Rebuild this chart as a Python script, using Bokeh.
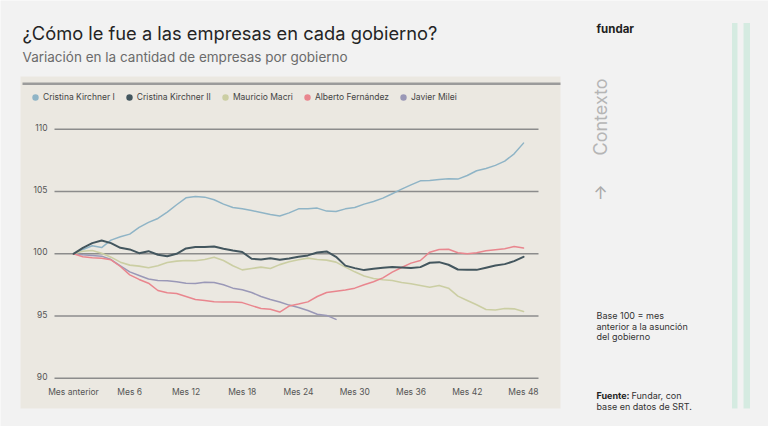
import math

from bokeh.plotting import figure
from bokeh.models import Range1d, Legend, LegendItem, Label, BoxAnnotation
from bokeh.core.properties import value
from bokeh.embed import file_html
from bokeh.resources import INLINE

# ---- data: company count index (base 100 = month before each government took office)
months = list(range(49))

cristina_1 = [100.0, 100.35, 100.65, 100.5, 101.1, 101.37, 101.58, 102.12, 102.52, 102.84,
              103.35, 103.94, 104.5, 104.6, 104.55, 104.34, 103.99, 103.72, 103.61, 103.48,
              103.32, 103.16, 103.03, 103.29, 103.61, 103.61, 103.67, 103.43, 103.4, 103.61,
              103.72, 103.99, 104.2, 104.47, 104.82, 105.19, 105.54, 105.86, 105.89, 105.97,
              106.02, 106.0, 106.29, 106.67, 106.85, 107.1, 107.44, 108.03, 108.89]

cristina_2 = [100.0, 100.48, 100.86, 101.07, 100.86, 100.48, 100.35, 100.05, 100.21, 99.92,
              99.81, 100.0, 100.43, 100.54, 100.54, 100.59, 100.4, 100.26, 100.14, 99.6,
              99.55, 99.65, 99.52, 99.63, 99.76, 99.87, 100.11, 100.19, 99.76, 99.05,
              98.85, 98.69, 98.8, 98.88, 98.93, 98.9, 98.85, 98.93, 99.28, 99.33,
              99.12, 98.74, 98.71, 98.71, 98.88, 99.06, 99.17, 99.41, 99.76]

macri = [100.0, 100.21, 100.27, 100.05, 99.73, 99.33, 99.09, 99.01, 98.88, 99.04,
         99.3, 99.41, 99.46, 99.44, 99.54, 99.73, 99.46, 99.04, 98.71, 98.82,
         98.93, 98.82, 99.13, 99.36, 99.52, 99.65, 99.54, 99.49, 99.33, 98.93,
         98.55, 98.21, 98.02, 97.91, 97.86, 97.7, 97.59, 97.46, 97.32, 97.46,
         97.24, 96.6, 96.25, 95.9, 95.53, 95.48, 95.61, 95.58, 95.37]

fernandez = [100.0, 99.76, 99.68, 99.65, 99.52, 98.98, 98.31, 97.94, 97.64, 97.05,
             96.87, 96.81, 96.57, 96.33, 96.25, 96.14, 96.12, 96.12, 96.08, 95.84,
             95.6, 95.55, 95.32, 95.8, 95.96, 96.14, 96.57, 96.89, 97.0, 97.1,
             97.24, 97.51, 97.75, 98.07, 98.53, 98.9, 99.25, 99.46, 100.13, 100.35,
             100.37, 100.08, 100.0, 100.08, 100.24, 100.32, 100.4, 100.59, 100.46]

milei = [100.0, 99.92, 99.87, 99.81, 99.54, 99.04, 98.55, 98.26, 97.97, 97.86,
         97.83, 97.75, 97.64, 97.62, 97.72, 97.7, 97.51, 97.24, 97.11, 96.89,
         96.57, 96.33, 96.13, 95.88, 95.69, 95.45, 95.15, 95.05, 94.73]

series_names = ["Cristina Kirchner I", "Cristina Kirchner II", "Mauricio Macri",
                "Alberto Fernández", "Javier Milei"]
series_values = [cristina_1, cristina_2, macri, fernandez, milei]
series_colors = ["#8fb4c6", "#43565e", "#cbcea3", "#e9868e", "#9a98b7"]
series_widths = [1.5, 2.0, 1.6, 1.5, 1.5]

tick_months = [0, 6, 12, 18, 24, 30, 36, 42, 48]
tick_labels = ["Mes anterior", "Mes 6", "Mes 12", "Mes 18", "Mes 24",
               "Mes 30", "Mes 36", "Mes 42", "Mes 48"]
y_ticks = [90, 95, 100, 105, 110]
y_tick_labels = ["90", "95", "100", "105", "110"]

FONT = "Inter"
PAGE = "#f2f2f2"
PANEL = "#ebe8e1"
GRID = "#8c8c8c"

# ---- canvas geometry: the frame fills the whole canvas; the chart scale
# puts month 0 at x=73 px (9.375 px per month) and 100 at y=253.3 px (12.45 px per point)
W, H = 768, 426
X0_PX, PX_PER_MONTH = 73.0, 9.375
Y100_PX, PX_PER_POINT = 253.3, 12.45


def dx(px):
    return (px - X0_PX) / PX_PER_MONTH


def dy(py):
    return 100.0 - (py - Y100_PX) / PX_PER_POINT


p = figure(width=W, height=H, output_backend="svg", toolbar_location=None,
           x_range=Range1d(dx(0), dx(W)), y_range=Range1d(dy(H), dy(0)),
           x_axis_location=None, y_axis_location=None, min_border=0,
           background_fill_color=PAGE, border_fill_color=PAGE,
           outline_line_color=None)
p.grid.visible = False


def box(left, right, top, bottom, color):
    # screen units are measured from the frame's bottom-left corner
    p.add_layout(BoxAnnotation(left=left, right=right, top=H - top, bottom=H - bottom,
                               left_units="screen", right_units="screen",
                               top_units="screen", bottom_units="screen",
                               fill_color=color, fill_alpha=1.0, line_color=None,
                               level="image"))


def note(text, px, py, size, color, style="normal", align="left", angle=0.0):
    # py is the vertical middle of the text line
    p.add_layout(Label(x=px, y=H - py, x_units="screen", y_units="screen",
                       text=text, text_font=FONT, text_font_size=f"{size}px",
                       text_color=color, text_font_style=style,
                       text_align=align, text_baseline="middle", angle=angle))


# chart panel, its top rule and the sidebar stripes
box(20, 560, 76, 408, PANEL)
box(22, 560, 82, 84.5, "#9b9b9b")
box(731.5, 737, 22.5, 408, "#d5ebe1")
box(743, 749.5, 22.5, 408, "#d5ebe1")

# horizontal grid at the y ticks, spanning the chart area
n_y = len(y_ticks)
p.segment(x0=[dx(54)] * n_y, x1=[dx(538)] * n_y, y0=y_ticks, y1=y_ticks,
          line_color=GRID, line_width=1.5)

# tick labels (y labels sit just above their grid line)
lift = 2.0 / PX_PER_POINT
p.text(x=[dx(47)] * n_y, y=[t + lift for t in y_ticks], text=y_tick_labels,
       text_font=value(FONT), text_font_size="8.5px", text_color="#555555",
       text_align="right", text_baseline="middle")
p.text(x=tick_months, y=[dy(391)] * len(tick_months), text=tick_labels,
       text_font=value(FONT), text_font_size="8.5px", text_color="#555555",
       text_align="center", text_baseline="middle")

# lines (dark Cristina II drawn last)
for i in [0, 4, 2, 3, 1]:
    vals = series_values[i]
    p.line(months[:len(vals)], vals, line_color=series_colors[i],
           line_width=series_widths[i], line_join="round", line_cap="round")

# legend entries use round markers
items = []
for name, vals, color in zip(series_names, series_values, series_colors):
    r = p.scatter(months[:len(vals)], vals, marker="circle", size=0,
                  fill_color=color, line_color=None)
    items.append(LegendItem(label=name, renderers=[r]))

legend = Legend(items=items, orientation="horizontal", location=(27, H - 105),
                padding=0, margin=0, spacing=6, glyph_width=16, glyph_height=16,
                label_height=16, label_standoff=0, label_text_font=FONT,
                label_text_font_size="8.5px", label_text_color="#444444",
                background_fill_alpha=0, border_line_color=None)
p.add_layout(legend)

# titles
note("¿Cómo le fue a las empresas en cada gobierno?", 22, 32.5, 18.3, "#242424")
note("Variación en la cantidad de empresas por gobierno", 22, 56.5, 13.5, "#6b6b6b")

# sidebar
note("fundar", 596, 28, 11.5, "#1e1e1e", style="bold")
note("Contexto", 600, 155, 18, "#b5b5b5", angle=math.pi / 2)
note("↑", 600, 192, 17, "#a9a9a9", align="center")
note("Base 100 = mes", 596, 315.3, 9, "#333333")
note("anterior a la asunción", 596, 325.8, 9, "#333333")
note("del gobierno", 596, 336.3, 9, "#333333")
note("Fuente:", 596, 395, 9, "#222222", style="bold")
note("Fundar, con", 631, 395, 9, "#333333")
note("base en datos de SRT.", 596, 406, 9, "#333333")

open("out.html", "w").write(file_html(p, INLINE, title="Empresas por gobierno"))
